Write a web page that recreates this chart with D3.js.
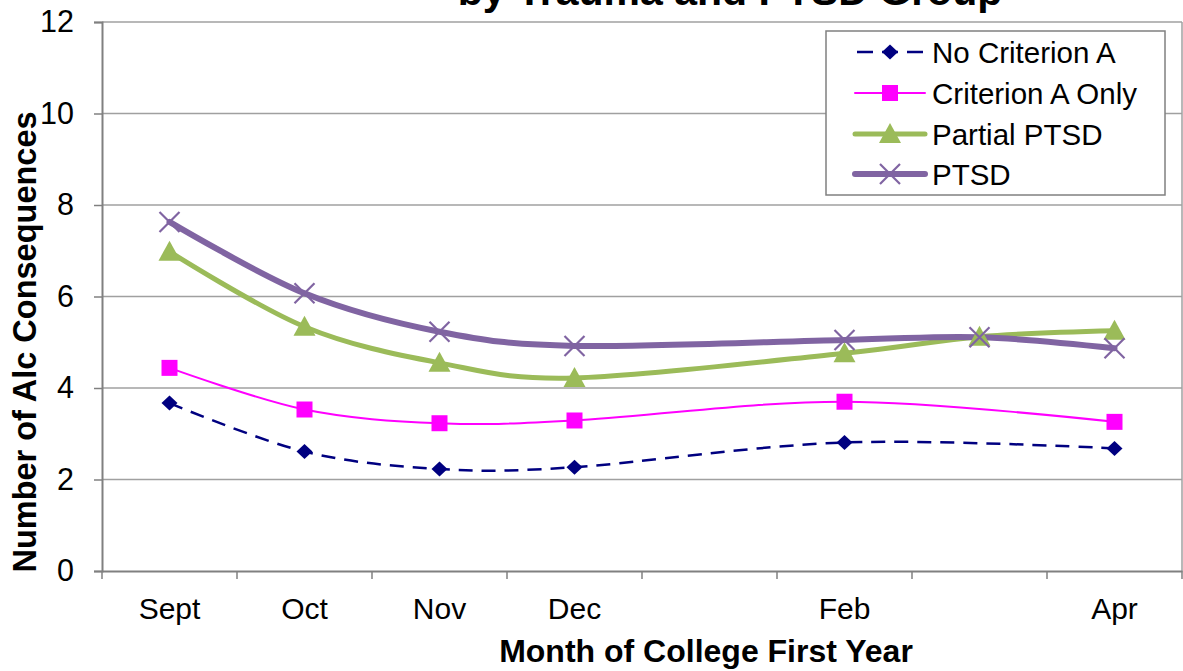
<!DOCTYPE html>
<html>
<head>
<meta charset="utf-8">
<script src="https://cdn.jsdelivr.net/npm/d3@7"></script>
<style>
  html, body { margin: 0; padding: 0; background: #fff; }
  svg { display: block; font-family: "Liberation Sans", Arial, sans-serif; }
</style>
</head>
<body>
<svg id="chart" width="1183" height="671"></svg>
<script>
// Months of the first college year (Jan and Mar carry no axis label)
const months = ["Sept", "Oct", "Nov", "Dec", "Jan", "Feb", "Mar", "Apr"];
const monthLabels = ["Sept", "Oct", "Nov", "Dec", "", "Feb", "", "Apr"];
const yTicks = [0, 2, 4, 6, 8, 10, 12];

// Mean number of alcohol consequences per group (null = not assessed)
const noCriterionA   = [3.67, 2.61, 2.23, 2.27, null, 2.81, null, 2.68];
const criterionAOnly = [4.44, 3.53, 3.23, 3.29, null, 3.70, null, 3.26];
const partialPTSD    = [6.98, 5.34, 4.55, 4.22, null, 4.76, 5.12, 5.25];
const ptsd           = [7.63, 6.07, 5.23, 4.92, null, 5.05, 5.11, 4.87];

const seriesNames = ["No Criterion A", "Criterion A Only", "Partial PTSD", "PTSD"];
const seriesValues = [noCriterionA, criterionAOnly, partialPTSD, ptsd];

const styles = [
  { color: "#000080", width: 2.5, dash: "14,9", marker: "diamond" },
  { color: "#FF00FF", width: 2,   dash: null,   marker: "square" },
  { color: "#9BBB59", width: 5,   dash: null,   marker: "triangle" },
  { color: "#8064A2", width: 6,   dash: null,   marker: "cross" }
];

const svg = d3.select("#chart");
const plotLeft = 102, plotRight = 1182, plotTop = 22, plotBottom = 571;

const x = d3.scaleBand().domain(months).range([plotLeft, plotRight]).padding(0);
const y = d3.scaleLinear().domain([0, 12]).range([plotBottom, plotTop]);
const cx = m => x(m) + x.bandwidth() / 2;

// Title (second line of the heading, running off the top edge)
svg.append("text")
  .attr("x", 730).attr("y", 5)
  .attr("text-anchor", "middle")
  .attr("font-size", 41).attr("font-weight", "bold")
  .text("by Trauma and PTSD Group");

// Horizontal gridlines
svg.append("g").selectAll("line")
  .data(yTicks.filter(t => t > 0))
  .join("line")
  .attr("x1", plotLeft).attr("x2", plotRight)
  .attr("y1", d => y(d)).attr("y2", d => y(d))
  .attr("stroke", "#a0a0a0").attr("stroke-width", 1.5);

// Right border of the plot area
svg.append("line")
  .attr("x1", plotRight).attr("x2", plotRight).attr("y1", plotTop).attr("y2", plotBottom)
  .attr("stroke", "#a0a0a0").attr("stroke-width", 1.5);

// Y axis
const yAxis = svg.append("g")
  .attr("transform", `translate(${plotLeft},0)`)
  .call(d3.axisLeft(y).tickValues(yTicks).tickSize(8).tickPadding(20).tickFormat(d3.format("d")));
yAxis.select(".domain").attr("stroke", "#808080").attr("stroke-width", 2);
yAxis.selectAll(".tick line").attr("stroke", "#808080").attr("stroke-width", 1.5);
yAxis.selectAll("text").attr("font-size", 30.5).attr("fill", "#000")
  .attr("font-family", "Liberation Sans, Arial, sans-serif");

// X axis: labels at month centres, ticks on month boundaries
const xAxis = svg.append("g")
  .attr("transform", `translate(0,${plotBottom})`)
  .call(d3.axisBottom(x).tickSize(0).tickPadding(27).tickFormat((d, i) => monthLabels[i]));
xAxis.select(".domain").attr("stroke", "#808080").attr("stroke-width", 2);
xAxis.selectAll("text").attr("font-size", 30).attr("fill", "#000")
  .attr("font-family", "Liberation Sans, Arial, sans-serif");
svg.append("g").selectAll("line")
  .data(months.map(m => x(m)).concat([plotRight]))
  .join("line")
  .attr("x1", d => d).attr("x2", d => d)
  .attr("y1", plotBottom).attr("y2", plotBottom + 8)
  .attr("stroke", "#808080").attr("stroke-width", 1.5);

// Axis titles
svg.append("text")
  .attr("x", 706).attr("y", 662)
  .attr("text-anchor", "middle")
  .attr("font-size", 32).attr("font-weight", "bold")
  .text("Month of College First Year");

svg.append("text")
  .attr("transform", "translate(36,342) rotate(-90)")
  .attr("text-anchor", "middle")
  .attr("font-size", 32.5).attr("font-weight", "bold")
  .text("Number of Alc Consequences");

// Marker shapes
function markerPath(kind) {
  switch (kind) {
    case "diamond":  return "M0,-7.5L8,0L0,7.5L-8,0Z";
    case "square":   return "M-8,-8H8V8H-8Z";
    case "triangle": return "M0,-11L11,9H-11Z";
    case "cross":    return "M-10,-10L10,10M-10,10L10,-10";
  }
}
function drawMarker(g, kind, color) {
  const p = g.append("path").attr("d", markerPath(kind));
  if (kind === "cross") {
    p.attr("fill", "none").attr("stroke", color).attr("stroke-width", 2.2);
  } else {
    p.attr("fill", color).attr("stroke", "none");
  }
}

const line = d3.line()
  .x(d => cx(d.month))
  .y(d => y(d.value))
  .curve(d3.curveCardinal.tension(0));

const plotData = seriesValues.map(vals =>
  months.map((m, i) => ({ month: m, value: vals[i] })).filter(d => d.value !== null));

// Lines
plotData.forEach((pts, s) => {
  svg.append("path")
    .datum(pts)
    .attr("d", line)
    .attr("fill", "none")
    .attr("stroke", styles[s].color)
    .attr("stroke-width", styles[s].width)
    .attr("stroke-dasharray", styles[s].dash)
    .attr("stroke-linejoin", "round")
    .attr("stroke-linecap", styles[s].dash ? "butt" : "round");
});

// Markers
plotData.forEach((pts, s) => {
  pts.forEach(d => {
    const g = svg.append("g").attr("transform", `translate(${cx(d.month)},${y(d.value)})`);
    drawMarker(g, styles[s].marker, styles[s].color);
  });
});

// Legend
const legend = svg.append("g");
legend.append("rect")
  .attr("x", 826).attr("y", 31).attr("width", 339).attr("height", 164)
  .attr("fill", "#fff").attr("stroke", "#808080").attr("stroke-width", 1.5);
const rowY = [52, 93, 134, 174];
seriesNames.forEach((name, s) => {
  const ry = rowY[s];
  legend.append("line")
    .attr("x1", 855).attr("x2", 925).attr("y1", ry).attr("y2", ry)
    .attr("stroke", styles[s].color)
    .attr("stroke-width", styles[s].width)
    .attr("stroke-dasharray", styles[s].dash ? "16,9" : null)
    .attr("stroke-dashoffset", styles[s].dash ? -2 : null)
    .attr("stroke-linecap", styles[s].dash ? "butt" : "round");
  const g = legend.append("g").attr("transform", `translate(890,${ry})`);
  drawMarker(g, styles[s].marker, styles[s].color);
  legend.append("text")
    .attr("x", 932).attr("y", ry).attr("dy", "0.36em")
    .attr("font-size", 29.5)
    .text(name);
});
</script>
</body>
</html>
